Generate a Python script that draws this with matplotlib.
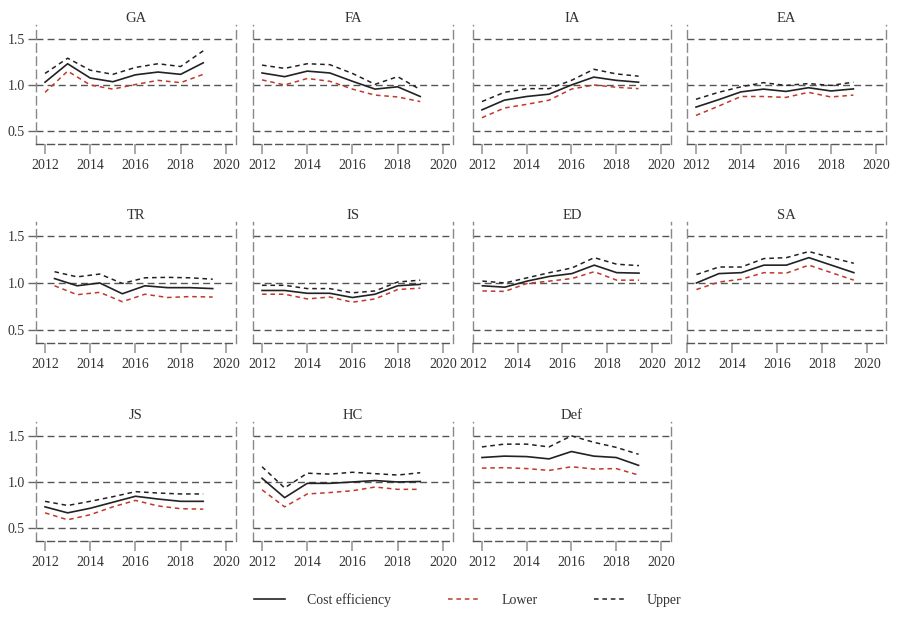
import matplotlib
matplotlib.use("Agg")
import matplotlib.pyplot as plt
from matplotlib.lines import Line2D
import numpy as np

plt.rcParams['font.family'] = ['Liberation Serif', 'DejaVu Serif']

years = [2012, 2013, 2014, 2015, 2016, 2017, 2018, 2019]
years_shift = [2012.42, 2013.42, 2014.42, 2015.42, 2016.42, 2017.42, 2018.42, 2019.42]

panels = ["GA", "FA", "IA", "EA", "TR", "IS", "ED", "SA", "JS", "HC", "Def"]

cost = {
    "GA": [1.03, 1.23, 1.075, 1.035, 1.11, 1.14, 1.115, 1.24],
    "FA": [1.13, 1.09, 1.15, 1.13, 1.04, 0.955, 0.98, 0.875],
    "IA": [0.73, 0.835, 0.875, 0.90, 1.0, 1.085, 1.05, 1.03],
    "EA": [0.76, 0.84, 0.925, 0.955, 0.93, 0.97, 0.935, 0.957],
    "TR": [1.047, 0.97, 1.0, 0.885, 0.97, 0.95, 0.95, 0.94],
    "IS": [0.92, 0.92, 0.89, 0.89, 0.845, 0.88, 0.97, 0.985],
    "ED": [0.97, 0.955, 1.02, 1.07, 1.10, 1.19, 1.11, 1.105],
    "SA": [1.0, 1.10, 1.11, 1.19, 1.19, 1.27, 1.19, 1.11],
    "JS": [0.73, 0.665, 0.715, 0.78, 0.845, 0.815, 0.79, 0.79],
    "HC": [1.04, 0.83, 0.985, 0.985, 1.0, 1.015, 1.0, 1.005],
    "Def": [1.265, 1.28, 1.275, 1.25, 1.33, 1.28, 1.265, 1.18],
}
upper = {
    "GA": [1.125, 1.29, 1.16, 1.115, 1.19, 1.23, 1.20, 1.37],
    "FA": [1.215, 1.18, 1.23, 1.22, 1.125, 1.007, 1.09, 0.95],
    "IA": [0.82, 0.92, 0.96, 0.96, 1.05, 1.17, 1.12, 1.095],
    "EA": [0.845, 0.92, 0.98, 1.025, 0.995, 1.015, 0.995, 1.03],
    "TR": [1.12, 1.065, 1.095, 0.995, 1.055, 1.06, 1.055, 1.04],
    "IS": [0.975, 0.975, 0.94, 0.94, 0.895, 0.915, 1.01, 1.03],
    "ED": [1.02, 1.0, 1.055, 1.11, 1.16, 1.27, 1.20, 1.185],
    "SA": [1.09, 1.17, 1.17, 1.26, 1.27, 1.335, 1.27, 1.21],
    "JS": [0.79, 0.745, 0.79, 0.84, 0.895, 0.88, 0.87, 0.87],
    "HC": [1.165, 0.935, 1.095, 1.085, 1.105, 1.09, 1.075, 1.10],
    "Def": [1.38, 1.41, 1.41, 1.38, 1.50, 1.43, 1.375, 1.30],
}
lower = {
    "GA": [0.92, 1.15, 1.0, 0.955, 1.005, 1.05, 1.025, 1.115],
    "FA": [1.055, 1.0, 1.07, 1.04, 0.955, 0.89, 0.87, 0.82],
    "IA": [0.645, 0.75, 0.79, 0.835, 0.955, 1.0, 0.975, 0.96],
    "EA": [0.67, 0.77, 0.875, 0.875, 0.865, 0.92, 0.87, 0.89],
    "TR": [0.97, 0.875, 0.90, 0.80, 0.88, 0.845, 0.855, 0.85],
    "IS": [0.88, 0.88, 0.83, 0.85, 0.795, 0.83, 0.93, 0.945],
    "ED": [0.915, 0.91, 0.995, 1.02, 1.047, 1.12, 1.03, 1.03],
    "SA": [0.93, 1.01, 1.04, 1.11, 1.105, 1.19, 1.11, 1.03],
    "JS": [0.665, 0.59, 0.645, 0.73, 0.80, 0.74, 0.71, 0.705],
    "HC": [0.915, 0.73, 0.87, 0.885, 0.905, 0.945, 0.92, 0.92],
    "Def": [1.15, 1.155, 1.145, 1.125, 1.165, 1.14, 1.145, 1.075],
}
shifted = {"TR", "ED", "SA"}
shifted_axis = {"ED", "SA"}

xticks = [2012, 2014, 2016, 2018, 2020]
yticks = [0.5, 1.0, 1.5]

W, H = 900, 622
fig = plt.figure(figsize=(9, 6.22), dpi=100)

col_lr = [(36, 236), (253, 453), (473, 671), (687, 886)]
row_tb = [(25, 144), (222, 343), (422, 541)]

red = "#c0392b"
dk = "#222222"

for i, name in enumerate(panels):
    r, c = divmod(i, 4)
    l, rr = col_lr[c]
    t, b = row_tb[r]
    ax = fig.add_axes([l / W, 1 - b / H, (rr - l) / W, (b - t) / H])
    xs = years_shift if name in shifted else years
    ax.plot(xs, upper[name], color=dk, lw=1.1, dashes=(3, 2.5))
    ax.plot(xs, lower[name], color=red, lw=1.1, dashes=(3, 2.5))
    ax.plot(xs, cost[name], color=dk, lw=1.2)
    if name in shifted_axis:
        ax.set_xlim(2012.0, 2020.85)
    else:
        ax.set_xlim(2011.6, 2020.45)
    ax.set_ylim(0.36, 1.65)
    ax.set_xticks(xticks)
    ax.set_yticks(yticks)
    for y in yticks:
        ax.axhline(y, color="#555555", lw=1.0, dashes=(5, 3), zorder=0)
    for s in ax.spines.values():
        s.set_linestyle((0, (6, 3.5)))
        s.set_color("#888888")
        s.set_linewidth(1.0)
    ax.spines["bottom"].set_color("#555555")
    ax.spines["bottom"].set_linestyle((0, (5, 3)))
    ax.spines["top"].set_visible(False)
    ax.tick_params(axis="x", direction="out", length=7, width=1.2, color="#999999",
                   labelsize=10, labelcolor="#333333", pad=4)
    if c == 0:
        ax.tick_params(axis="y", direction="out", length=6, width=1.0, color="#666666",
                       labelsize=10, labelcolor="#333333", pad=2)
        ax.set_yticklabels(["0.5", "1.0", "1.5"])
    else:
        ax.tick_params(axis="y", length=0, labelleft=False)
    ax.set_title(name, fontsize=10.5, color="#333333", pad=2)

handles = [Line2D([], [], color=dk, lw=1.2),
           Line2D([], [], color=red, lw=1.1, dashes=(3, 2.5)),
           Line2D([], [], color=dk, lw=1.1, dashes=(3, 2.5))]
fig.legend(handles, ["Cost efficiency", "Lower", "Upper"], loc="center",
           bbox_to_anchor=(468 / W, 1 - 600 / H), ncol=3, frameon=False,
           fontsize=10, handlelength=2.2, handletextpad=1.6, columnspacing=4.1,
           labelcolor="#333333")

fig.savefig("out.png", dpi=100, facecolor="white")
